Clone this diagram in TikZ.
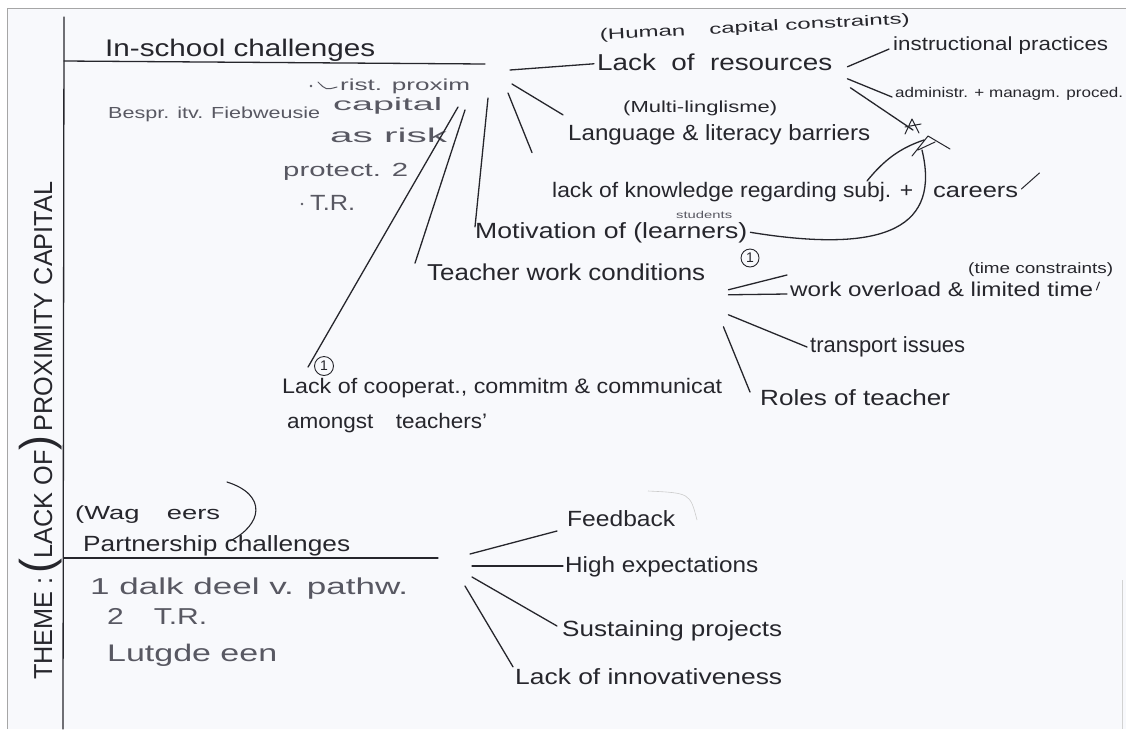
\documentclass[tikz,border=0pt]{standalone}
\usepackage{fontspec}
\setmainfont{Liberation Sans}
\usepackage{graphicx}
\definecolor{ink}{RGB}{38,38,44}
\definecolor{pencil}{RGB}{88,88,98}
\definecolor{paper}{RGB}{248,249,252}
% text squeezed or stretched to a given width, height kept
\newcommand\hw[2]{\resizebox{#1pt}{\height}{#2}}
\newcommand\fs[1]{\fontsize{#1}{#1}\selectfont}

\begin{document}
\begin{tikzpicture}[x=1pt,y=-1pt,
  txt/.style={inner sep=0pt, anchor=base west, text=ink, font=\fs{22}},
  note/.style={txt, text=pencil},
  pen/.style={draw=ink, line width=1.3pt, line cap=round, line join=round},
  faint/.style={draw=pencil, line width=1pt, line cap=round},
  ring/.style={circle, draw=ink, line width=0.9pt, inner sep=0pt, minimum size=18pt, font=\fs{14}, text=ink}]
\useasboundingbox (0,0) rectangle (1126,729);
\fill[white] (0,0) rectangle (1126,729);
\fill[paper] (7,8) rectangle (1126,729);
\draw[gray!70, line width=1pt] (7,729) -- (7,8) -- (1126,8);
\draw[gray!35, line width=0.8pt] (1122,580) -- (1122,729);

% ruled frame of the sheet
\draw[pen] (64,17) -- (63,729);
\draw[pen] (64,61) -- (485,64);
\draw[pen] (64,558) -- (438,558);

% theme, written up the left margin
\node[txt, rotate=90, font=\fs{26}] (theme) at (52,680)
  {\hw{498}{THEME :\,{\fs{46}(}LACK OF{\fs{46})}\,PROXIMITY CAPITAL}};

% section headings
\node[txt, font=\fs{24}] (insch) at (105,56) {\hw{270}{In-school challenges}};
\node[txt, font=\fs{19}] (wag) at (75,519) {\hw{145}{(Wag\quad eers}};
\draw[pen, line width=1.1pt] (227,482) .. controls (268,495) and (262,525) .. (230,541);
\node[txt] (part) at (83,551) {\hw{267}{Partnership challenges}};

% pencil notes, in-school
\node[note, font=\fs{16}] (prox) at (340,90) {\hw{130}{rist. proxim}};
\fill[pencil] (311,86) circle[radius=1.3];
\draw[faint] (318,82) .. controls (326,90) .. (337,87);
\node[note, font=\fs{16}] (bespr) at (108,118) {\hw{212}{Bespr. itv. Fiebweusie}};
\node[note, font=\fs{18}] (capi) at (333,110) {\hw{109}{capital}};
\node[note, font=\fs{20}] (asrisk) at (330,142) {\hw{117}{as risk}};
\node[note, font=\fs{19}] (prot) at (283,176) {\hw{125}{protect. 2}};
\fill[pencil] (302,204) circle[radius=1.3];
\node[note, font=\fs{22}] (tr) at (310,210) {\hw{45}{T.R.}};

% pencil notes, partnership
\node[note, font=\fs{23}] (dalk) at (90,594) {\hw{318}{1 dalk deel v. pathw.}};
\node[note, font=\fs{23}] (tr2) at (107,624) {\hw{100}{2\quad T.R.}};
\node[note, font=\fs{24}] (uitg) at (107,661) {\hw{170}{Lutgde een}};

% in-school branches
\node[txt, font=\fs{15}, rotate=3] (hcap) at (600,40) {\hw{310}{(Human\quad capital constraints)}};
\node[txt, font=\fs{23}] (res) at (597,70) {\hw{235}{Lack\ \ of\ \ resources}};
\node[txt, font=\fs{19}] (instr) at (893,50) {\hw{215}{instructional practices}};
\node[txt, font=\fs{14}] (admin) at (895,97) {\hw{228}{administr. + managm. proced.}};
\node[txt, font=\fs{16}] (multi) at (623,112) {\hw{154}{(Multi-linglisme)}};
\node[txt] (lang) at (568,140) {\hw{302}{Language \& literacy barriers}};
\node[txt, font=\fs{21}] (know) at (552,197) {\hw{361}{lack of knowledge regarding subj. +}};
\node[txt, font=\fs{21}] (car) at (933,197) {\hw{85}{careers}};
\node[note, font=\fs{10}] (stud) at (676,218) {\hw{56}{students}};
\node[txt] (mot) at (475,238) {\hw{272}{Motivation of (learners)}};
\node[txt, font=\fs{23}] (teach) at (427,280) {\hw{278}{Teacher work conditions}};
\node[ring] (one1) at (750,258) {1};
\node[txt, font=\fs{20}] (over) at (790,296) {\hw{303}{work overload \& limited time}};
\node[txt, font=\fs{15}] (tcon) at (968,273) {\hw{145}{(time constraints)}};
\node[txt] (trans) at (810,352) {\hw{155}{transport issues}};
\node[txt] (roles) at (760,405) {\hw{190}{Roles of teacher}};
\node[txt, font=\fs{21}] (coop) at (282,393) {\hw{440}{Lack of cooperat., commitm \& communicat}};
\node[txt, font=\fs{21}] (amon) at (287,428) {\hw{200}{amongst\quad teachers'}};
\node[ring, minimum size=19pt] (one2) at (324,366) {1};

% partnership branches
\node[txt] (fb) at (567,526) {\hw{108}{Feedback}};
\node[txt] (hi) at (565,572) {\hw{193}{High expectations}};
\node[txt] (sus) at (562,636) {\hw{220}{Sustaining projects}};
\node[txt] (inn) at (515,684) {\hw{267}{Lack of innovativeness}};

% hub of the in-school branches
\coordinate (h1a) at (510,70);
\coordinate (h1b) at (512,84);
\coordinate (h1c) at (508,93);
\coordinate (h1d) at (488,98);
\coordinate (h1e) at (465,110);
\coordinate (h1f) at (458,107);
\draw[pen] (h1a) -- ([shift={(-3,2)}]res.west);
\draw[pen] (h1b) -- ([shift={(-5,-9)}]lang.north west);
\draw[pen] (h1c) -- ([shift={(-20,-29)}]know.north west);
\draw[pen] (h1d) -- ([shift={(0,5)}]mot.north west);
\draw[pen] (h1e) -- ([shift={(-12,0)}]teach.north west);
\draw[pen] (h1f) -- ([shift={(-6,1)}]one2.west);

% resources sub-branches
\coordinate (star) at (913,130);
\draw[pen] ([shift={(15,5)}]res.east) -- ([shift={(-4,4)}]instr.west);
\draw[pen] ([shift={(15,17)}]res.east) -- ([shift={(-3,0)}]admin.base west);
\draw[pen] ([shift={(18,26)}]res.east) -- (star);
\draw[pen, line width=1pt] (905,134) -- (912,119) -- (919,133) (905,127) -- (921,124);
\draw[pen, line width=1pt] (912,156) -- (928,136) -- (950,149) (918,150) -- (935,142);

% links drawn back to the resources branch
\coordinate (subjarc) at (867,181);
\draw[pen] (subjarc) .. controls (884,160) and (900,148) .. (924,140);
\draw[pen] ([shift={(3,0)}]mot.east) .. controls (890,255) and (940,225) .. (922,150);
\draw[pen, line width=1pt] ([shift={(3,-8)}]car.base east) -- ([shift={(21,-24)}]car.base east);

% teacher work conditions sub-branches
\draw[pen] ([shift={(23,18)}]teach.east) -- ([shift={(-3,-21)}]over.base west);
\draw[pen] ([shift={(23,23)}]teach.east) -- ([shift={(-3,-2)}]over.base west);
\draw[pen] ([shift={(23,43)}]teach.east) -- ([shift={(-3,-5)}]trans.base west);
\draw[pen] ([shift={(18,55)}]teach.east) -- ([shift={(-10,-13)}]roles.base west);
\draw[pen, line width=1pt] ([shift={(3,-6)}]over.base east) -- ([shift={(6,-14)}]over.base east);

% hub of the partnership branches
\coordinate (h2a) at (470,554);
\coordinate (h2b) at (472,566);
\coordinate (h2c) at (472,577);
\coordinate (h2d) at (465,586);
\draw[pen] (h2a) -- ([shift={(-10,5)}]fb.base west);
\draw[pen] (h2b) -- ([shift={(-2,-6)}]hi.base west);
\draw[pen] (h2c) -- ([shift={(-5,-10)}]sus.base west);
\draw[pen] (h2d) -- ([shift={(-2,-1)}]inn.north west);
\draw[gray!40, line width=0.6pt] (648,491) .. controls (690,493) .. (697,520);
\end{tikzpicture}
\end{document}
